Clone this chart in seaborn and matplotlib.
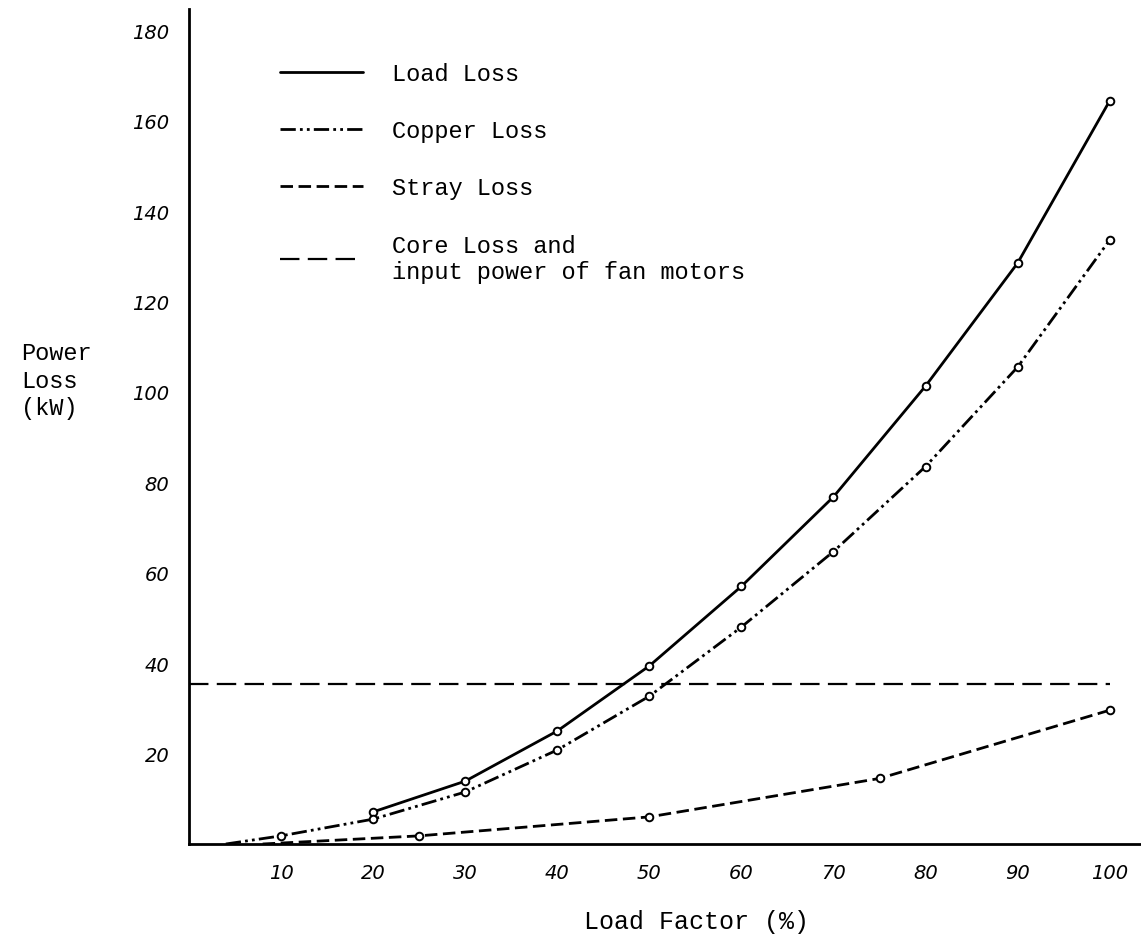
import matplotlib
matplotlib.use("Agg")
import matplotlib.pyplot as plt
import seaborn as sns
import pandas as pd

# ---- data ----
x_ticks = [10, 20, 30, 40, 50, 60, 70, 80, 90, 100]
y_ticks = [20, 40, 60, 80, 100, 120, 140, 160, 180]

load_x = [20, 30, 40, 50, 60, 70, 80, 90, 100]
load_y = [7.1, 13.9, 25.0, 39.4, 57.0, 76.8, 101.3, 128.5, 164.4]

copper_x = [4, 10, 20, 30, 40, 50, 60, 70, 80, 90, 100]
copper_y = [0.0, 1.8, 5.5, 11.5, 20.8, 32.7, 48.0, 64.7, 83.5, 105.5, 133.6]

stray_x = [8, 25, 50, 75, 100]
stray_y = [0.0, 1.8, 6.0, 14.5, 29.6]

core_x = [0, 100]
core_y = [35.5, 35.5]

labels = ["Load Loss", "Copper Loss", "Stray Loss",
          "Core Loss and\ninput power of fan motors"]

# ---- styling ----
sns.set_theme(style="white")
plt.rcParams["font.family"] = ["DejaVu Sans"]
plt.rcParams["lines.scale_dashes"] = False
MONO = "Liberation Mono"

W, H = 1141, 945
fig = plt.figure(figsize=(W / 100, H / 100), dpi=100)
fig.patch.set_facecolor("white")
ax = fig.add_axes([189 / W, 100 / H, (W - 189) / W, 835 / H])
ax.set_facecolor("white")

styles = [
    dict(linestyle="-", linewidth=2.0),
    dict(linestyle=(0, (11, 3, 2, 3, 2, 3)), linewidth=2.0),
    dict(linestyle=(0, (9, 4)), linewidth=2.0),
    dict(linestyle=(0, (14, 6)), linewidth=1.6),
]
series = [(load_x, load_y, 0), (copper_x, copper_y, 1),
          (stray_x, stray_y, 1), (core_x, core_y, None)]

handles = []
for (xs, ys, mark_from), st, lab in zip(series, styles, labels):
    df = pd.DataFrame({"x": xs, "y": ys})
    sns.lineplot(data=df, x="x", y="y", ax=ax, color="black",
                 estimator=None, **st)
    handles.append(ax.get_lines()[-1])
    if mark_from is not None:
        dm = df.iloc[mark_from:]
        sns.scatterplot(data=dm, x="x", y="y", ax=ax, marker="o", s=30,
                        facecolor="white", edgecolor="black", linewidth=1.4,
                        zorder=5)

ax.set_xlim(0, 103.4)
ax.set_ylim(0, 184.7)
ax.set_xticks(x_ticks)
ax.set_yticks(y_ticks)
ax.set_xticklabels([str(v) for v in x_ticks], fontstyle="italic", fontsize=14)
ax.set_yticklabels([str(v) for v in y_ticks], fontstyle="italic", fontsize=14)
ax.tick_params(axis="both", direction="in", length=9, width=1.3,
               color="black", labelcolor="black")
ax.tick_params(axis="x", pad=14)
ax.tick_params(axis="y", pad=14)

for s in ["top", "right"]:
    ax.spines[s].set_visible(False)
for s in ["left", "bottom"]:
    ax.spines[s].set_linewidth(2.0)
    ax.spines[s].set_color("black")

ax.set_xlabel("Load Factor (%)", fontfamily=MONO, fontsize=18, color="black")
ax.xaxis.set_label_coords((697 - 189) / (W - 189), (845 - 910) / 835)
ax.set_ylabel("Power\nLoss\n(kW)", fontfamily=MONO, fontsize=17, color="black",
              rotation=0, ha="left", va="center", linespacing=1.25)
ax.yaxis.set_label_coords((21 - 189) / (W - 189), (845 - 381) / 835)

leg = ax.legend(handles, labels, loc="upper left", frameon=False,
                bbox_to_anchor=(280 / W, 1 - 63 / H),
                bbox_transform=fig.transFigure,
                prop={"family": MONO, "size": 17},
                handlelength=3.5, handletextpad=1.25, labelspacing=1.45,
                borderpad=0, borderaxespad=0)
for t in leg.get_texts():
    t.set_color("black")

fig.savefig("out.png", dpi=100, facecolor="white")
